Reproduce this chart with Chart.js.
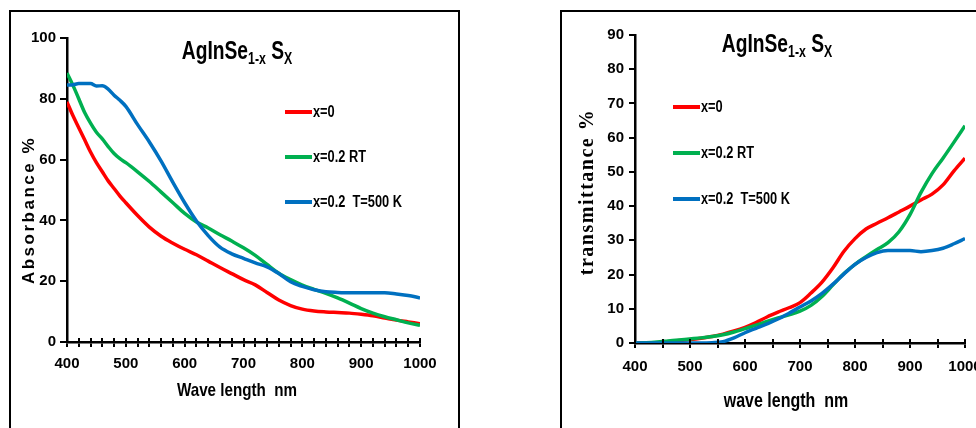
<!DOCTYPE html>
<html>
<head>
<meta charset="utf-8">
<script src="https://cdn.jsdelivr.net/npm/chart.js@4.4.1/dist/chart.umd.min.js"></script>
<style>
  body { margin: 0; width: 976px; height: 428px; overflow: hidden; background: #fff; position: relative;
         font-family: 'Liberation Sans', Arial, sans-serif; }
  .box { position: absolute; top: 10px; height: 520px; border: 2px solid #000; box-sizing: border-box; }
  .ttl { position: absolute; width: 220px; text-align: center; font-weight: bold; font-size: 25px; line-height: 24px;
         color: #000; transform: scaleX(0.77); transform-origin: 50% 50%; }
  .ttl sub { font-size: 16px; vertical-align: baseline; position: relative; top: 5px; }
  canvas { position: absolute; top: 0; }
</style>
</head>
<body>
<div class="box" style="left:9px;width:451px"></div>
<div class="box" style="left:560px;width:520px"></div>
<canvas id="abs" width="470" height="428" style="left:0"></canvas>
<canvas id="tra" width="460" height="428" style="left:560px"></canvas>
<div class="ttl" style="left:127px;top:38px">AgInSe<sub>1-x</sub> S<sub>X</sub></div>
<div class="ttl" style="left:667px;top:31px">AgInSe<sub>1-x</sub> S<sub>X</sub></div>
<script>
// absorbance panel (left)
var absWave  = [400, 410, 420, 430, 440, 450, 460, 470, 480, 490, 500, 520, 540, 560, 580, 600, 620, 640, 660, 680,
                700, 720, 740, 760, 780, 800, 820, 840, 860, 880, 900, 920, 940, 960, 980, 1000];
var absRed   = [79, 74.5, 70.5, 66.5, 62.5, 59, 56, 53, 50.5, 48, 45.8, 41.6, 37.8, 34.8, 32.5, 30.5, 28.7, 26.6, 24.5, 22.5,
                20.5, 18.8, 16.3, 13.8, 12, 10.8, 10.2, 9.9, 9.7, 9.5, 9.1, 8.6, 7.9, 7.2, 6.6, 6];
var absGreen = [88.5, 84.5, 80, 75.5, 72, 69, 66.8, 64.3, 62, 60.3, 59, 56, 52.8, 49.3, 45.8, 42.3, 39.5, 37.5, 35.3, 33.2,
                31, 28.5, 25.5, 22.6, 20.5, 18.7, 17.3, 16, 14.5, 12.8, 11, 9.5, 8.3, 7.3, 6.3, 5.5];
var absBlue  = [84.5, 84.6, 85, 85, 85, 84.2, 84.3, 83.2, 81.2, 79.5, 77.5, 71.5, 65.8, 59.5, 52.5, 45.8, 39.8, 35, 31.2, 29,
                27.5, 26, 24.7, 22.5, 19.8, 18.3, 17.2, 16.5, 16.3, 16.2, 16.2, 16.2, 16.2, 15.8, 15.3, 14.5];

// transmittance panel (right)
var traWave  = [400, 420, 440, 460, 480, 500, 520, 540, 560, 580, 600, 620, 640, 660, 680, 700, 720, 740, 760, 780,
                800, 820, 840, 860, 880, 900, 920, 940, 960, 980, 1000];
var traRed   = [0, 0, 0.1, 0.4, 0.7, 1, 1.4, 1.9, 2.6, 3.5, 4.6, 6, 7.6, 9, 10.3, 11.8, 14.6, 17.8, 22, 26.8,
                30.5, 33.3, 35, 36.6, 38.3, 40, 41.8, 43.5, 46.2, 50.3, 54];
var traGreen = [0, 0.1, 0.3, 0.6, 0.9, 1.2, 1.5, 1.9, 2.4, 3.2, 4.2, 5.2, 6.3, 7.3, 8.2, 9.3, 11, 13.6, 17, 20.3,
                23, 25.2, 27.3, 29.3, 32.5, 37.5, 44, 49.5, 54, 58.7, 63.5];
var traBlue  = [0, 0, 0, 0, 0, 0, 0, 0.1, 0.4, 1.5, 3, 4.3, 5.6, 7, 8.7, 10.5, 12.3, 14.5, 17.2, 20.2,
                23, 25, 26.4, 27, 27, 27, 26.7, 27, 27.7, 29, 30.5];

var seriesNames  = ['x=0', 'x=0.2 RT', 'x=0.2  T=500 K'];
var seriesColors = ['#ff0000', '#00b050', '#0070c0'];
var absTicks = [0, 20, 40, 60, 80, 100];
var traTicks = [0, 10, 20, 30, 40, 50, 60, 70, 80, 90];

var SANS = "'Liberation Sans', Arial, sans-serif";
var NARROW = 0.8;   // the original uses a condensed face

function pts(xs, ys) {
  return xs.map(function (x, i) { return { x: x, y: ys[i] }; });
}

function sets(xs, lists) {
  return lists.map(function (ys, i) {
    return {
      label: seriesNames[i],
      data: pts(xs, ys),
      borderColor: seriesColors[i],
      borderWidth: 3.5,
      pointRadius: 0,
      cubicInterpolationMode: 'monotone',
      order: 3 - i
    };
  });
}

function narrowText(ctx, text, x, y) {
  ctx.save();
  ctx.translate(x, y);
  ctx.scale(NARROW, 1);
  ctx.fillText(text, 0, 0);
  ctx.restore();
}

// legend, axis titles and the inner half of the x tick marks
var deco = {
  id: 'deco',
  afterDraw: function (chart, args, o) {
    var ctx = chart.ctx, xs = chart.scales.x, y0 = chart.scales.y.getPixelForValue(0);
    ctx.save();
    ctx.strokeStyle = '#000';
    ctx.lineWidth = 2;
    xs.ticks.forEach(function (t) {
      var px = Math.round(xs.getPixelForValue(t.value));
      ctx.beginPath();
      ctx.moveTo(px, y0);
      ctx.lineTo(px, y0 - o.tickIn);
      ctx.stroke();
    });

    chart.data.datasets.forEach(function (ds, i) {
      var ly = o.legY + i * o.legDy;
      ctx.strokeStyle = ds.borderColor;
      ctx.lineWidth = 4;
      ctx.beginPath();
      ctx.moveTo(o.legX, ly);
      ctx.lineTo(o.legX + 27, ly);
      ctx.stroke();
      ctx.fillStyle = '#000';
      ctx.font = 'bold 16px ' + SANS;
      ctx.textAlign = 'left';
      ctx.textBaseline = 'middle';
      narrowText(ctx, ds.label, o.legX + 28, ly + 1);
    });

    ctx.fillStyle = '#000';
    ctx.font = o.xFont;
    ctx.textAlign = 'center';
    ctx.textBaseline = 'alphabetic';
    narrowText(ctx, o.xTitle, o.xX, o.xY);

    ctx.font = o.yFont;
    ctx.letterSpacing = o.ySpacing;
    ctx.translate(o.yX, o.yY);
    ctx.rotate(-Math.PI / 2);
    ctx.textBaseline = 'middle';
    ctx.fillText(o.yTitle, 0, 0);
    ctx.restore();
  }
};

function axes(step, labelEvery, yMax, yTicks, yWidth, xHeight, yTickLen, yPad, xPad) {
  return {
    x: {
      type: 'linear', min: 400, max: 1000,
      afterFit: function (s) { s.height = xHeight; },
      border: { color: '#000', width: 2.5 },
      grid: { drawOnChartArea: false, color: '#000', lineWidth: 2, tickLength: 5 },
      ticks: {
        stepSize: step, autoSkip: false, maxRotation: 0, padding: xPad, color: '#000',
        font: { family: SANS, size: 15, weight: 'bold' },
        callback: function (v) { return v % labelEvery === 0 ? v : ''; }
      }
    },
    y: {
      min: 0, max: yMax,
      afterFit: function (s) { s.width = yWidth; },
      afterBuildTicks: function (s) { s.ticks = yTicks.map(function (v) { return { value: v }; }); },
      border: { color: '#000', width: 2.5 },
      grid: { drawOnChartArea: false, color: '#000', lineWidth: 2, tickLength: yTickLen },
      ticks: { padding: yPad, color: '#000', font: { family: SANS, size: 15, weight: 'bold' } }
    }
  };
}

new Chart(document.getElementById('abs'), {
  type: 'line',
  data: { datasets: sets(absWave, [absRed, absGreen, absBlue]) },
  plugins: [deco],
  options: {
    responsive: false, animation: false, devicePixelRatio: 1,
    layout: { padding: { left: 0, top: 38, right: 50, bottom: 0 } },
    scales: axes(20, 100, 100, absTicks, 67, 86, 7, 4, 8),
    plugins: {
      legend: { display: false }, tooltip: { enabled: false },
      deco: {
        tickIn: 4, legX: 285, legY: 112, legDy: 45,
        xTitle: 'Wave length  nm', xFont: 'bold 19px ' + SANS, xX: 237, xY: 396,
        yTitle: 'Absorbance %', yFont: 'bold 17px ' + SANS, ySpacing: '2.5px', yX: 29, yY: 210
      }
    }
  }
});

new Chart(document.getElementById('tra'), {
  type: 'line',
  data: { datasets: sets(traWave, [traRed, traGreen, traBlue]) },
  plugins: [deco],
  options: {
    responsive: false, animation: false, devicePixelRatio: 1,
    layout: { padding: { left: 0, top: 35, right: 55, bottom: 0 } },
    scales: axes(50, 100, 90, traTicks, 75, 85, 6, 5, 10),
    plugins: {
      legend: { display: false }, tooltip: { enabled: false },
      deco: {
        tickIn: 4, legX: 113, legY: 107, legDy: 46,
        xTitle: 'wave length  nm', xFont: 'bold 20px ' + SANS, xX: 226, xY: 407,
        yTitle: 'transmittance %', yFont: 'bold 20px "Liberation Serif", "Times New Roman", serif', ySpacing: '1.5px', yX: 28, yY: 192
      }
    }
  }
});
</script>
</body>
</html>
